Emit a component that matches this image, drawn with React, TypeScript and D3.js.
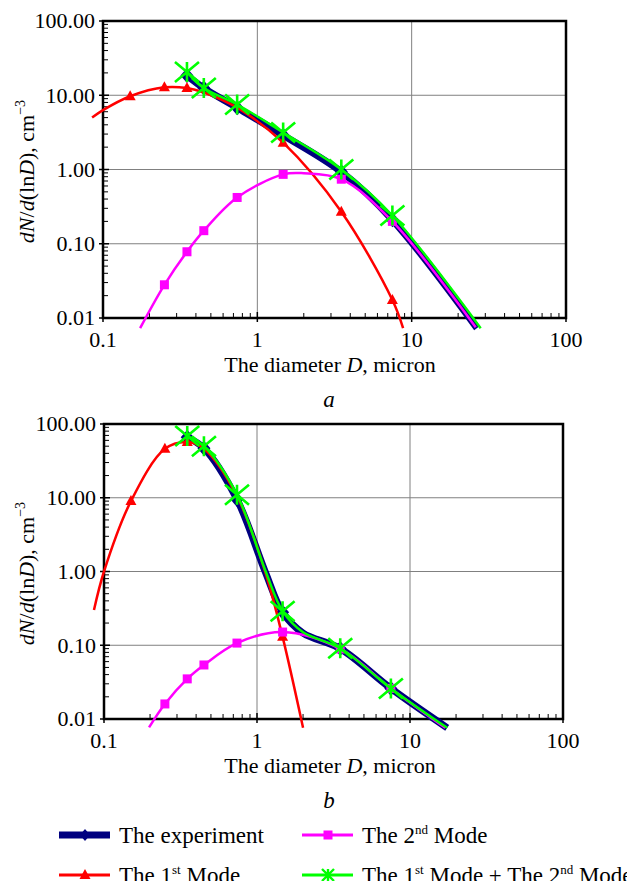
import * as d3 from "d3";
import { useEffect, useRef } from "react";

// [diameter, dN/d(lnD), marker shown]
type Pt = [number, number, number];

const xTicks = [0.1, 1, 10, 100];
const xTickLabels = ["0.1", "1", "10", "100"];
const yTicks = [100, 10, 1, 0.1, 0.01];
const yTickLabels = ["100.00", "10.00", "1.00", "0.10", "0.01"];

// panel a
const expA: Pt[] = [
  [0.35, 18.5, 1], [0.45, 12.5, 1], [0.74, 6.8, 1], [1.47, 2.9, 1],
  [3.5, 0.93, 1], [7.5, 0.21, 1], [26.5, 0.0073, 0],
];
const mode1A: Pt[] = [
  [0.085, 5.0, 0], [0.1, 6.3, 0], [0.15, 9.7, 1], [0.25, 12.8, 1],
  [0.35, 12.5, 1], [0.45, 10.9, 0], [0.74, 6.8, 0], [1.47, 2.3, 1],
  [3.5, 0.27, 1], [7.5, 0.0175, 1], [8.8, 0.0073, 0],
];
const mode2A: Pt[] = [
  [0.174, 0.0073, 0], [0.25, 0.028, 1], [0.35, 0.078, 1], [0.45, 0.15, 1],
  [0.74, 0.42, 1], [1.47, 0.86, 1], [2.0, 0.89, 0], [3.5, 0.74, 1],
  [7.5, 0.2, 1], [26, 0.0075, 0],
];
const sumA: Pt[] = [
  [0.35, 20.5, 1], [0.45, 12.5, 1], [0.74, 7.5, 1], [1.47, 3.15, 1],
  [3.5, 1.0, 1], [7.5, 0.24, 1], [28, 0.0073, 0],
];

// panel b
const expB: Pt[] = [
  [0.35, 66, 1], [0.45, 47, 1], [0.74, 9.5, 1], [1.13, 1.0, 0], [1.47, 0.28, 1],
  [2.0, 0.146, 0], [3.5, 0.09, 1], [7.5, 0.026, 1], [17.5, 0.0076, 0],
];
const mode1B: Pt[] = [
  [0.086, 0.3, 0], [0.1, 1.0, 0], [0.15, 9.0, 1], [0.25, 46, 1],
  [0.35, 57, 1], [0.45, 46, 0], [0.74, 10.5, 0], [1.13, 1.0, 0],
  [1.47, 0.13, 1], [2.0, 0.0076, 0],
];
const mode2B: Pt[] = [
  [0.197, 0.0077, 0], [0.25, 0.016, 1], [0.35, 0.035, 1], [0.45, 0.054, 1],
  [0.74, 0.107, 1], [1.47, 0.151, 1], [3.5, 0.089, 1], [7.5, 0.026, 1],
  [17, 0.0076, 0],
];
const sumB: Pt[] = [
  [0.35, 69, 1], [0.45, 50, 1], [0.74, 11, 1], [1.13, 1.05, 0], [1.47, 0.29, 1],
  [2.0, 0.15, 0], [3.5, 0.091, 1], [7.5, 0.026, 1], [17.5, 0.0076, 0],
];

const NAVY = "#000080";
const RED = "#ff0000";
const MAGENTA = "#ff00ff";
const GREEN = "#00ff00";
const FONT = "Liberation Serif, Times New Roman, DejaVu Serif, serif";

const drawMarker = (g, type, x, y, big = true) => {
  if (type === "diamond") {
    const w = big ? 6.5 : 5, h = big ? 7.5 : 6;
    g.append("path")
      .attr("d", `M${x},${y - h}L${x + w},${y}L${x},${y + h}L${x - w},${y}Z`)
      .attr("fill", NAVY);
  } else if (type === "triangle") {
    g.append("path")
      .attr("d", `M${x},${y - 6}L${x + 5.5},${y + 4}L${x - 5.5},${y + 4}Z`)
      .attr("fill", RED);
  } else if (type === "square") {
    g.append("rect")
      .attr("x", x - 4.5).attr("y", y - 4.5)
      .attr("width", 9).attr("height", 9)
      .attr("fill", MAGENTA);
  } else {
    const w = big ? 12 : 6, h = big ? 10 : 6;
    g.append("path")
      .attr("d", `M${x - w},${y - h}L${x + w},${y + h}M${x - w},${y + h}L${x + w},${y - h}M${x},${y - h}L${x},${y + h}`)
      .attr("stroke", GREEN)
      .attr("stroke-width", big ? 2.6 : 2.4)
      .attr("fill", "none");
  }
};

const drawPanel = (svg, cfg) => {
  const { left, right, top, bottom, series, tag } = cfg;
  const x = d3.scaleLog().domain([0.1, 100]).range([left, right]);
  const y = d3.scaleLog().domain([0.01, 100]).range([bottom, top]);
  const g = svg.append("g");

  // grid
  g.selectAll(".vg").data([1, 10]).enter().append("line")
    .attr("x1", (d) => x(d)).attr("x2", (d) => x(d))
    .attr("y1", top).attr("y2", bottom)
    .attr("stroke", "#808080").attr("stroke-width", 1);
  g.selectAll(".hg").data([10, 1, 0.1]).enter().append("line")
    .attr("x1", left).attr("x2", right)
    .attr("y1", (d) => y(d)).attr("y2", (d) => y(d))
    .attr("stroke", "#808080").attr("stroke-width", 1);

  // minor ticks
  const minorX = [];
  [0.1, 1, 10].forEach((dec) => d3.range(2, 10).forEach((k) => minorX.push(k * dec)));
  const minorY = [];
  [0.01, 0.1, 1, 10].forEach((dec) => d3.range(2, 10).forEach((k) => minorY.push(k * dec)));
  g.selectAll(".mx").data(minorX).enter().append("line")
    .attr("x1", (d) => x(d)).attr("x2", (d) => x(d))
    .attr("y1", bottom).attr("y2", bottom - 5)
    .attr("stroke", "#000").attr("stroke-width", 1);
  g.selectAll(".my").data(minorY).enter().append("line")
    .attr("x1", left).attr("x2", left + 5)
    .attr("y1", (d) => y(d)).attr("y2", (d) => y(d))
    .attr("stroke", "#000").attr("stroke-width", 1);
  g.selectAll(".Mx").data(xTicks).enter().append("line")
    .attr("x1", (d) => x(d)).attr("x2", (d) => x(d))
    .attr("y1", bottom + 4).attr("y2", bottom - 6)
    .attr("stroke", "#000").attr("stroke-width", 1.5);
  g.selectAll(".My").data(yTicks).enter().append("line")
    .attr("x1", left - 4).attr("x2", left + 6)
    .attr("y1", (d) => y(d)).attr("y2", (d) => y(d))
    .attr("stroke", "#000").attr("stroke-width", 1.5);

  // frame
  g.append("rect")
    .attr("x", left).attr("y", top)
    .attr("width", right - left).attr("height", bottom - top)
    .attr("fill", "none").attr("stroke", "#000").attr("stroke-width", 2.5);

  // tick labels
  g.selectAll(".xl").data(xTicks).enter().append("text")
    .attr("x", (d) => x(d)).attr("y", bottom + 29)
    .attr("text-anchor", "middle")
    .attr("font-family", FONT).attr("font-size", 22)
    .text((d, i) => xTickLabels[i]);
  g.selectAll(".yl").data(yTicks).enter().append("text")
    .attr("x", left - 8).attr("y", (d) => y(d))
    .attr("dy", "0.34em")
    .attr("text-anchor", "end")
    .attr("font-family", FONT).attr("font-size", 22)
    .text((d, i) => yTickLabels[i]);

  // axis titles
  const xt = g.append("text")
    .attr("x", 330).attr("y", bottom + 54)
    .attr("text-anchor", "middle")
    .attr("font-family", FONT).attr("font-size", 22);
  xt.append("tspan").text("The diameter ");
  xt.append("tspan").attr("font-style", "italic").text("D");
  xt.append("tspan").text(", micron");

  g.append("text")
    .attr("x", 329).attr("y", bottom + 89)
    .attr("text-anchor", "middle")
    .attr("font-family", FONT).attr("font-size", 23)
    .attr("font-style", "italic")
    .text(tag);

  const yt = g.append("text")
    .attr("transform", `translate(34, ${(top + bottom) / 2 + 2}) rotate(-90)`)
    .attr("text-anchor", "middle")
    .attr("font-family", FONT).attr("font-size", 22);
  yt.append("tspan").attr("font-style", "italic").text("dN");
  yt.append("tspan").text("/");
  yt.append("tspan").attr("font-style", "italic").text("d");
  yt.append("tspan").text("(ln");
  yt.append("tspan").attr("font-style", "italic").text("D");
  yt.append("tspan").text("), cm");
  yt.append("tspan").attr("font-size", 14).attr("dy", -9).text("−3");

  // series
  const line = d3.line()
    .x((d) => x(d[0]))
    .y((d) => y(d[1]))
    .curve(d3.curveCatmullRom.alpha(0.5));

  series.forEach((s) => {
    g.append("path")
      .attr("d", line(s.data))
      .attr("fill", "none")
      .attr("stroke", s.color)
      .attr("stroke-width", s.width)
      .attr("stroke-linejoin", "round");
    s.data.filter((d) => d[2]).forEach((d) => drawMarker(g, s.marker, x(d[0]), y(d[1])));
  });
};

const App = () => {
  const svgRef = useRef(null);

  useEffect(() => {
    const svg = d3.select(svgRef.current);
    svg.selectAll("*").remove();

    drawPanel(svg, {
      left: 103, right: 566, top: 21, bottom: 318, tag: "a",
      series: [
        { data: expA, color: NAVY, width: 7, marker: "diamond" },
        { data: mode1A, color: RED, width: 2.5, marker: "triangle" },
        { data: mode2A, color: MAGENTA, width: 2.5, marker: "square" },
        { data: sumA, color: GREEN, width: 2.5, marker: "star" },
      ],
    });
    drawPanel(svg, {
      left: 104, right: 563, top: 424, bottom: 719, tag: "b",
      series: [
        { data: expB, color: NAVY, width: 7, marker: "diamond" },
        { data: mode1B, color: RED, width: 2.5, marker: "triangle" },
        { data: mode2B, color: MAGENTA, width: 2.5, marker: "square" },
        { data: sumB, color: GREEN, width: 2.5, marker: "star" },
      ],
    });

    // legend
    const legend = [
      { label: ["The experiment"], color: NAVY, width: 7, marker: "diamond", x: 59, y: 835 },
      { label: ["The 1", "st", " Mode"], color: RED, width: 3, marker: "triangle", x: 59, y: 875 },
      { label: ["The 2", "nd", " Mode"], color: MAGENTA, width: 3, marker: "square", x: 302, y: 835 },
      { label: ["The 1", "st", " Mode + The 2", "nd", " Mode"], color: GREEN, width: 3, marker: "star", x: 302, y: 875 },
    ];
    const lg = svg.append("g");
    legend.forEach((l) => {
      lg.append("line")
        .attr("x1", l.x).attr("x2", l.x + 51)
        .attr("y1", l.y).attr("y2", l.y)
        .attr("stroke", l.color).attr("stroke-width", l.width);
      drawMarker(lg, l.marker, l.x + 26, l.y, false);
      const t = lg.append("text")
        .attr("x", l.x + 60).attr("y", l.y + 8)
        .attr("font-family", FONT).attr("font-size", 23);
      l.label.forEach((part, i) => {
        if (i % 2 === 1) {
          t.append("tspan").attr("font-size", 13).attr("dy", -9).text(part);
        } else {
          t.append("tspan").attr("dy", i > 0 ? 9 : 0).text(part);
        }
      });
    });
  }, []);

  return (
    <svg
      ref={svgRef}
      width={627}
      height={881}
      style={{ position: "absolute", left: 0, top: 0, background: "#fff" }}
    ></svg>
  );
};

export default App;
